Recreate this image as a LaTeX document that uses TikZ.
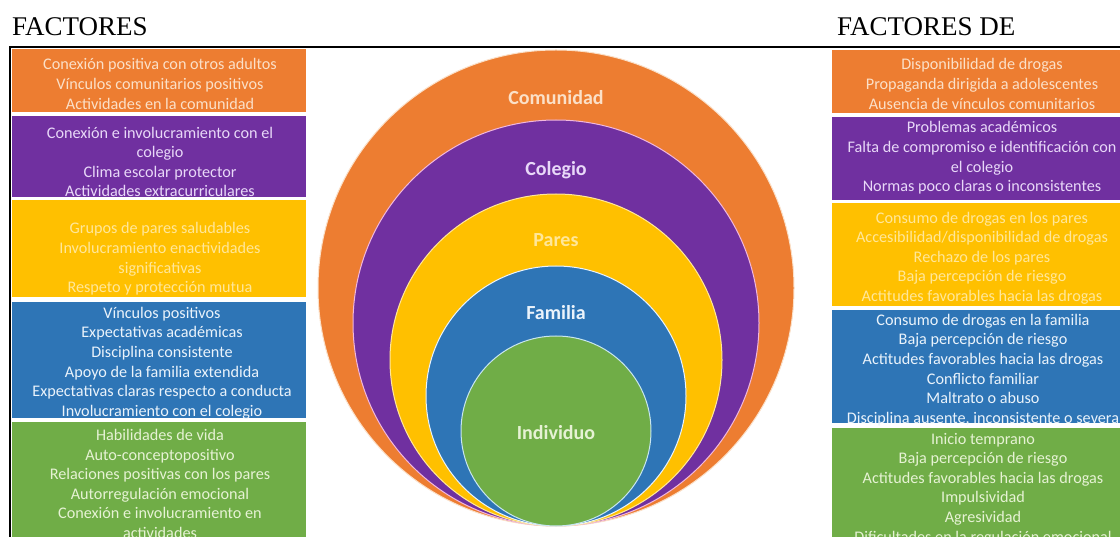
\documentclass[tikz,border=0pt]{standalone}
\usepackage{fontspec}
\setmainfont{Carlito}
\newfontfamily\timesf{Liberation Serif}
\definecolor{cOr}{HTML}{ED7D31}
\definecolor{cPu}{HTML}{7030A0}
\definecolor{cYe}{HTML}{FFC000}
\definecolor{cBl}{HTML}{2E75B6}
\definecolor{cGr}{HTML}{70AD47}
\definecolor{tOr}{HTML}{FBE0C8}
\definecolor{tPu}{HTML}{E8D8F8}
\definecolor{tYe}{HTML}{FFE79A}
\definecolor{tBl}{HTML}{EAF3FB}
\definecolor{tGr}{HTML}{E6F2D4}
\definecolor{bPu}{HTML}{F2B8DC}
\definecolor{bGr}{HTML}{C8E6F0}
\begin{document}
\begin{tikzpicture}[x=1pt,y=-1pt,
  boxL/.style={rectangle, inner sep=0pt, outer sep=0pt, minimum width=294pt, anchor=north west},
  boxR/.style={rectangle, inner sep=0pt, outer sep=0pt, minimum width=300pt, anchor=north west},
  txt/.style={align=center, inner sep=0pt, font=\fontsize{16.2}{19.6}\selectfont},
  ring/.style={circle, inner sep=0pt, outer sep=0pt, line width=1pt},
  lab/.style={inner sep=0pt, font=\bfseries\fontsize{20}{24}\selectfont},
  title/.style={anchor=base west, inner sep=0pt, font=\timesf\fontsize{27}{30}\selectfont}]
\clip (0,0) rectangle (1120,537);
\fill[white] (0,0) rectangle (1120,537);

% titles
\node[title] (t1) at (12,36) {FACTORES};
\node[title] (t2) at (837,36) {FACTORES DE};

% frame lines
\coordinate (fb) at (10,540);
\coordinate (fc) at (10,47);
\coordinate (fr) at (1122,47);
\draw[line width=2pt] (fb) -- (fc) -- (fr);

% left boxes
\node[boxL, fill=cOr, minimum height=63pt] (lor) at (12,49) {};
\node[boxL, fill=cPu, minimum height=81pt] (lpu) at (12,116) {};
\node[boxL, fill=cYe, minimum height=97pt] (lye) at (12,200) {};
\node[boxL, fill=cBl, minimum height=116pt] (lbl) at (12,302) {};
\node[boxL, fill=cGr, minimum height=120pt] (lgr) at (12,422) {};

\node[txt, text=tOr] (lort) at (160,84) {Conexión positiva con otros adultos\\Vínculos comunitarios positivos\\Actividades en la comunidad};
\node[txt, text=tPu] (lput) at (160,162) {Conexión e involucramiento con el\\colegio\\Clima escolar protector\\Actividades extracurriculares};
\node[txt, text=tYe] (lyet) at (160,259) {Grupos de pares saludables\\Involucramiento enactividades\\significativas\\Respeto y protección mutua};
\node[txt, text=tBl] (lblt) at (162,363) {Vínculos positivos\\Expectativas académicas\\Disciplina consistente\\Apoyo de la familia extendida\\Expectativas claras respecto a conducta\\Involucramiento con el colegio};
\node[txt, text=tGr] (lgrt) at (160,484) {Habilidades de vida\\Auto-conceptopositivo\\Relaciones positivas con los pares\\Autorregulación emocional\\Conexión e involucramiento en\\actividades};

% right boxes
\node[boxR, fill=cOr, minimum height=63pt] (ror) at (832,50) {};
\node[boxR, fill=cPu, minimum height=83pt] (rpu) at (832,117) {};
\node[boxR, fill=cYe, minimum height=103pt] (rye) at (832,203) {};
\node[boxR, fill=cBl, minimum height=113pt] (rbl) at (832,310) {};
\node[boxR, fill=cGr, minimum height=115pt] (rgr) at (832,428) {};

\node[txt, text=tOr] (rort) at (982,84) {Disponibilidad de drogas\\Propaganda dirigida a adolescentes\\Ausencia de vínculos comunitarios};
\node[txt, text=tPu] (rput) at (982,158) {Problemas académicos\\Falta de compromiso e identificación con\\el colegio\\Normas poco claras o inconsistentes};
\node[txt, text=tYe] (ryet) at (982,258) {Consumo de drogas en los pares\\Accesibilidad/disponibilidad de drogas\\Rechazo de los pares\\Baja percepción de riesgo\\Actitudes favorables hacia las drogas};
\node[txt, text=tBl] (rblt) at (983,370) {Consumo de drogas en la familia\\Baja percepción de riesgo\\Actitudes favorables hacia las drogas\\Conflicto familiar\\Maltrato o abuso\\Disciplina ausente, inconsistente o severa};
\node[txt, text=tGr] (rgrt) at (983,489) {Inicio temprano\\Baja percepción de riesgo\\Actitudes favorables hacia las drogas\\Impulsividad\\Agresividad\\Dificultades en la regulación emocional};

% nested circles
\node[ring, fill=cOr, draw=tOr, minimum size=476pt] (comunidad) at (556,288) {};
\node[ring, fill=cPu, draw=bPu, minimum size=406pt] (colegio) at (556,323) {};
\node[ring, fill=cYe, draw=tYe, minimum size=332pt] (pares) at (556,360) {};
\node[ring, fill=cBl, draw=tBl, minimum size=260pt] (familia) at (556,396) {};
\node[ring, fill=cGr, draw=bGr, minimum size=190pt] (individuo) at (556,431) {};

\node[lab, text=tOr] (lcom) at (556,98) {Comunidad};
\node[lab, text=tPu] (lcol) at (556,170) {Colegio};
\node[lab, text=tYe] (lpar) at (556,240) {Pares};
\node[lab, text=tBl] (lfam) at (556,313) {Familia};
\node[lab, text=tGr] (lind) at (556,433) {Individuo};
\end{tikzpicture}
\end{document}
